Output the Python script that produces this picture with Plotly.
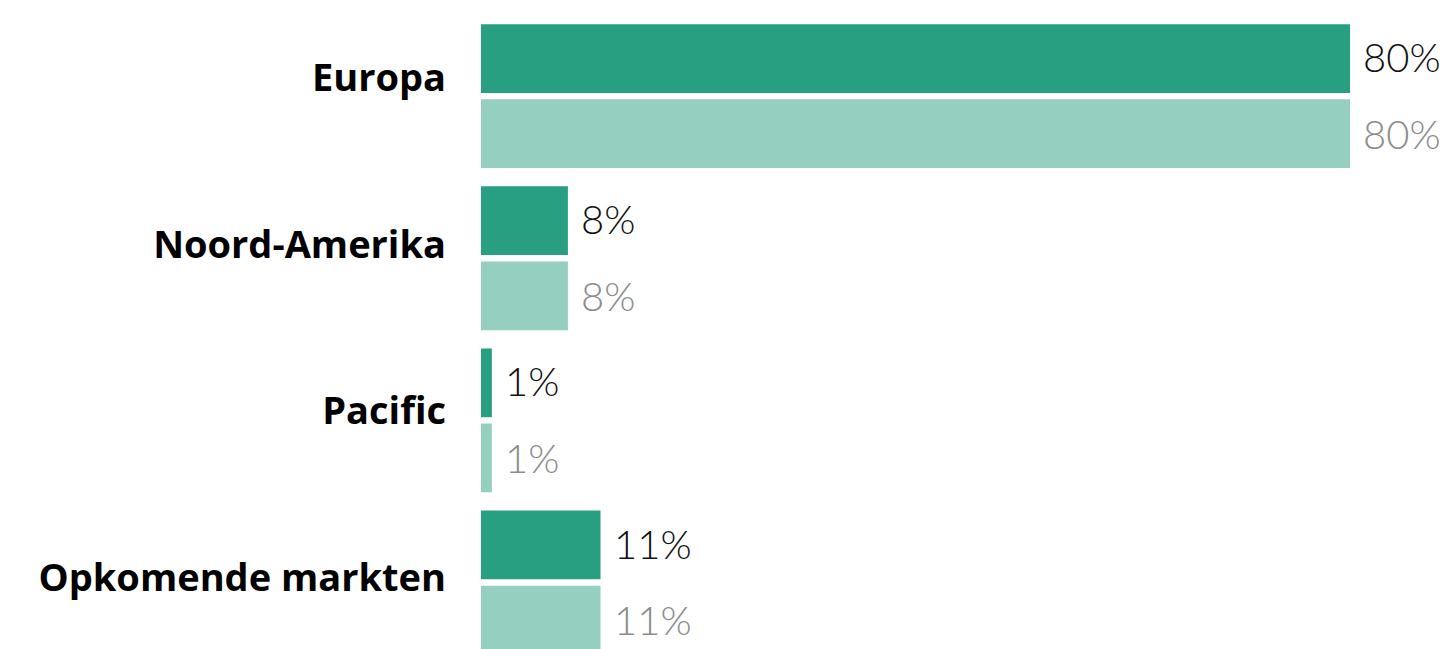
import plotly.graph_objects as go

# Regional allocation, two series per region
regions = ["Europa", "Noord-Amerika", "Pacific", "Opkomende markten"]
series_a = [80, 8, 1, 11]
series_b = [80, 8, 1, 11]

dark_green = "#299f81"
light_green = "#94cfc0"

fig = go.Figure()
fig.add_trace(go.Bar(
    x=series_a, y=regions, orientation="h",
    marker=dict(color=dark_green, line=dict(width=0)),
    hoverinfo="skip", showlegend=False,
))
fig.add_trace(go.Bar(
    x=series_b, y=regions, orientation="h",
    marker=dict(color=light_green, line=dict(width=0)),
    hoverinfo="skip", showlegend=False,
))

# Invisible trace carrying the region labels on a separate axis
fig.add_trace(go.Scatter(
    x=[0] * len(regions), y=regions, yaxis="y2",
    mode="markers", marker=dict(opacity=0), hoverinfo="skip", showlegend=False,
))

value_font = dict(family="Lato", size=40, weight=300)
for region, va, vb in zip(regions, series_a, series_b):
    fig.add_annotation(x=va, y=region, text=f"{va}%", showarrow=False,
                       xanchor="left", xshift=11, yshift=39,
                       font=dict(color="#111111", **value_font))
    fig.add_annotation(x=vb, y=region, text=f"{vb}%", showarrow=False,
                       xanchor="left", xshift=11, yshift=-37.5,
                       font=dict(color="#8c8c8c", **value_font))

fig.update_layout(
    width=1450, height=649,
    margin=dict(l=481, r=0, t=15, b=0),
    paper_bgcolor="white", plot_bgcolor="white",
    barmode="group", bargap=0.074, bargroupgap=0.084,
    xaxis=dict(range=[0, 89.2], visible=False, fixedrange=True),
    yaxis=dict(type="category", categoryarray=regions,
               range=[3.41, -0.5], showticklabels=False,
               showgrid=False, zeroline=False, showline=False, ticks=""),
    yaxis2=dict(type="category", categoryarray=regions, overlaying="y",
                side="left", range=[3.426, -0.375],
                showgrid=False, zeroline=False, showline=False, ticks="",
                ticklabelstandoff=34,
                tickfont=dict(family="Open Sans", size=38, weight=700, color="#000000")),
)

fig.write_html("out.html")
